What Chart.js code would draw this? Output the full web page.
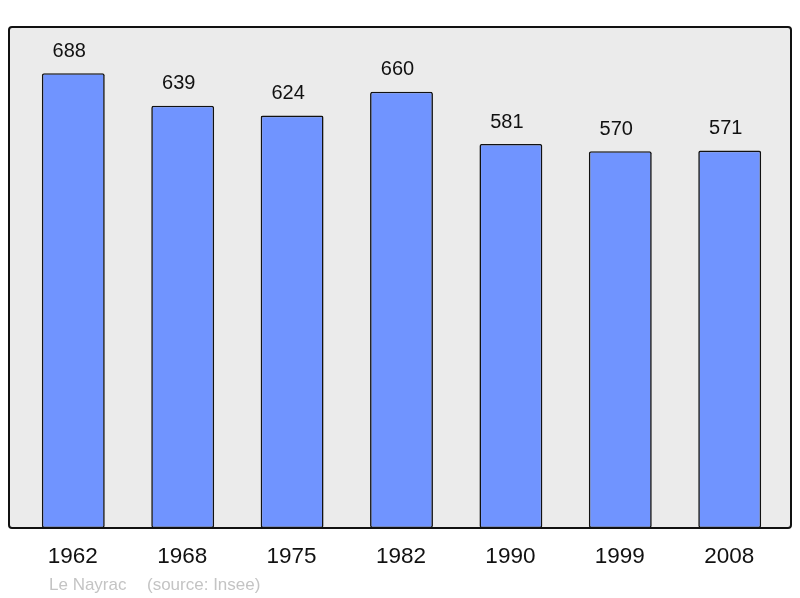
<!DOCTYPE html>
<html><head><meta charset="utf-8">
<script src="https://cdn.jsdelivr.net/npm/chart.js@4"></script>
<style>html,body{margin:0;padding:0;background:#fff}#wrap{width:800px;height:598px}</style>
</head><body><div id="wrap"><canvas id="c" width="800" height="598"></canvas></div>
<script>
const years = ['1962','1968','1975','1982','1990','1999','2008'];
const population = [688, 639, 624, 660, 581, 570, 571];
const footerName = 'Le Nayrac';
const footerSource = '(source: Insee)';

const boxPlugin = {
  id: 'box',
  beforeDraw(chart) {
    const ctx = chart.ctx;
    const a = chart.chartArea;
    const x0 = 9, x1 = 791, y0 = a.top, y1 = a.bottom;
    ctx.save();
    ctx.beginPath();
    ctx.roundRect(x0, y0, x1 - x0, y1 - y0, 3);
    ctx.fillStyle = '#ebebeb';
    ctx.fill();
    ctx.restore();
  },
  afterDatasetsDraw(chart) {
    const ctx = chart.ctx;
    const a = chart.chartArea;
    const x0 = 9, x1 = 791, y0 = a.top, y1 = a.bottom;
    ctx.save();
    ctx.beginPath();
    ctx.roundRect(x0, y0, x1 - x0, y1 - y0, 3);
    ctx.lineWidth = 2;
    ctx.strokeStyle = '#111';
    ctx.stroke();
    const meta = chart.getDatasetMeta(0);
    const xs = chart.scales.x;
    ctx.fillStyle = '#111';
    ctx.textAlign = 'center';
    ctx.textBaseline = 'middle';
    ctx.font = '20px "Liberation Sans", Arial, sans-serif';
    meta.data.forEach((bar, i) => {
      ctx.fillText(String(population[i]), bar.x - 4, bar.y - 22);
    });
    ctx.font = '22.5px "Liberation Sans", Arial, sans-serif';
    years.forEach((y, i) => {
      ctx.fillText(y, xs.getPixelForValue(i) - 0.5, 557);
    });
    ctx.fillStyle = '#c4c4c4';
    ctx.textAlign = 'left';
    ctx.font = '17px "Liberation Sans", Arial, sans-serif';
    ctx.fillText(footerName, 49, 585);
    ctx.fillText(footerSource, 147, 585);
    ctx.restore();
  }
};

new Chart(document.getElementById('c'), {
  type: 'bar',
  data: {
    labels: years,
    datasets: [{
      data: population,
      backgroundColor: '#7094ff',
      borderColor: '#111',
      borderWidth: 1.6,
      borderRadius: 2,
      borderSkipped: false,
      barPercentage: 0.575,
      categoryPercentage: 1
    }]
  },
  options: {
    responsive: false,
    animation: false,
    devicePixelRatio: 1,
    layout: { padding: { left: 18.6, right: 15.6, top: 27, bottom: 70 } },
    plugins: { legend: { display: false }, tooltip: { enabled: false } },
    scales: {
      x: { display: false },
      y: { display: false, min: 0, max: 758 }
    }
  },
  plugins: [boxPlugin]
});
</script>
</body></html>
